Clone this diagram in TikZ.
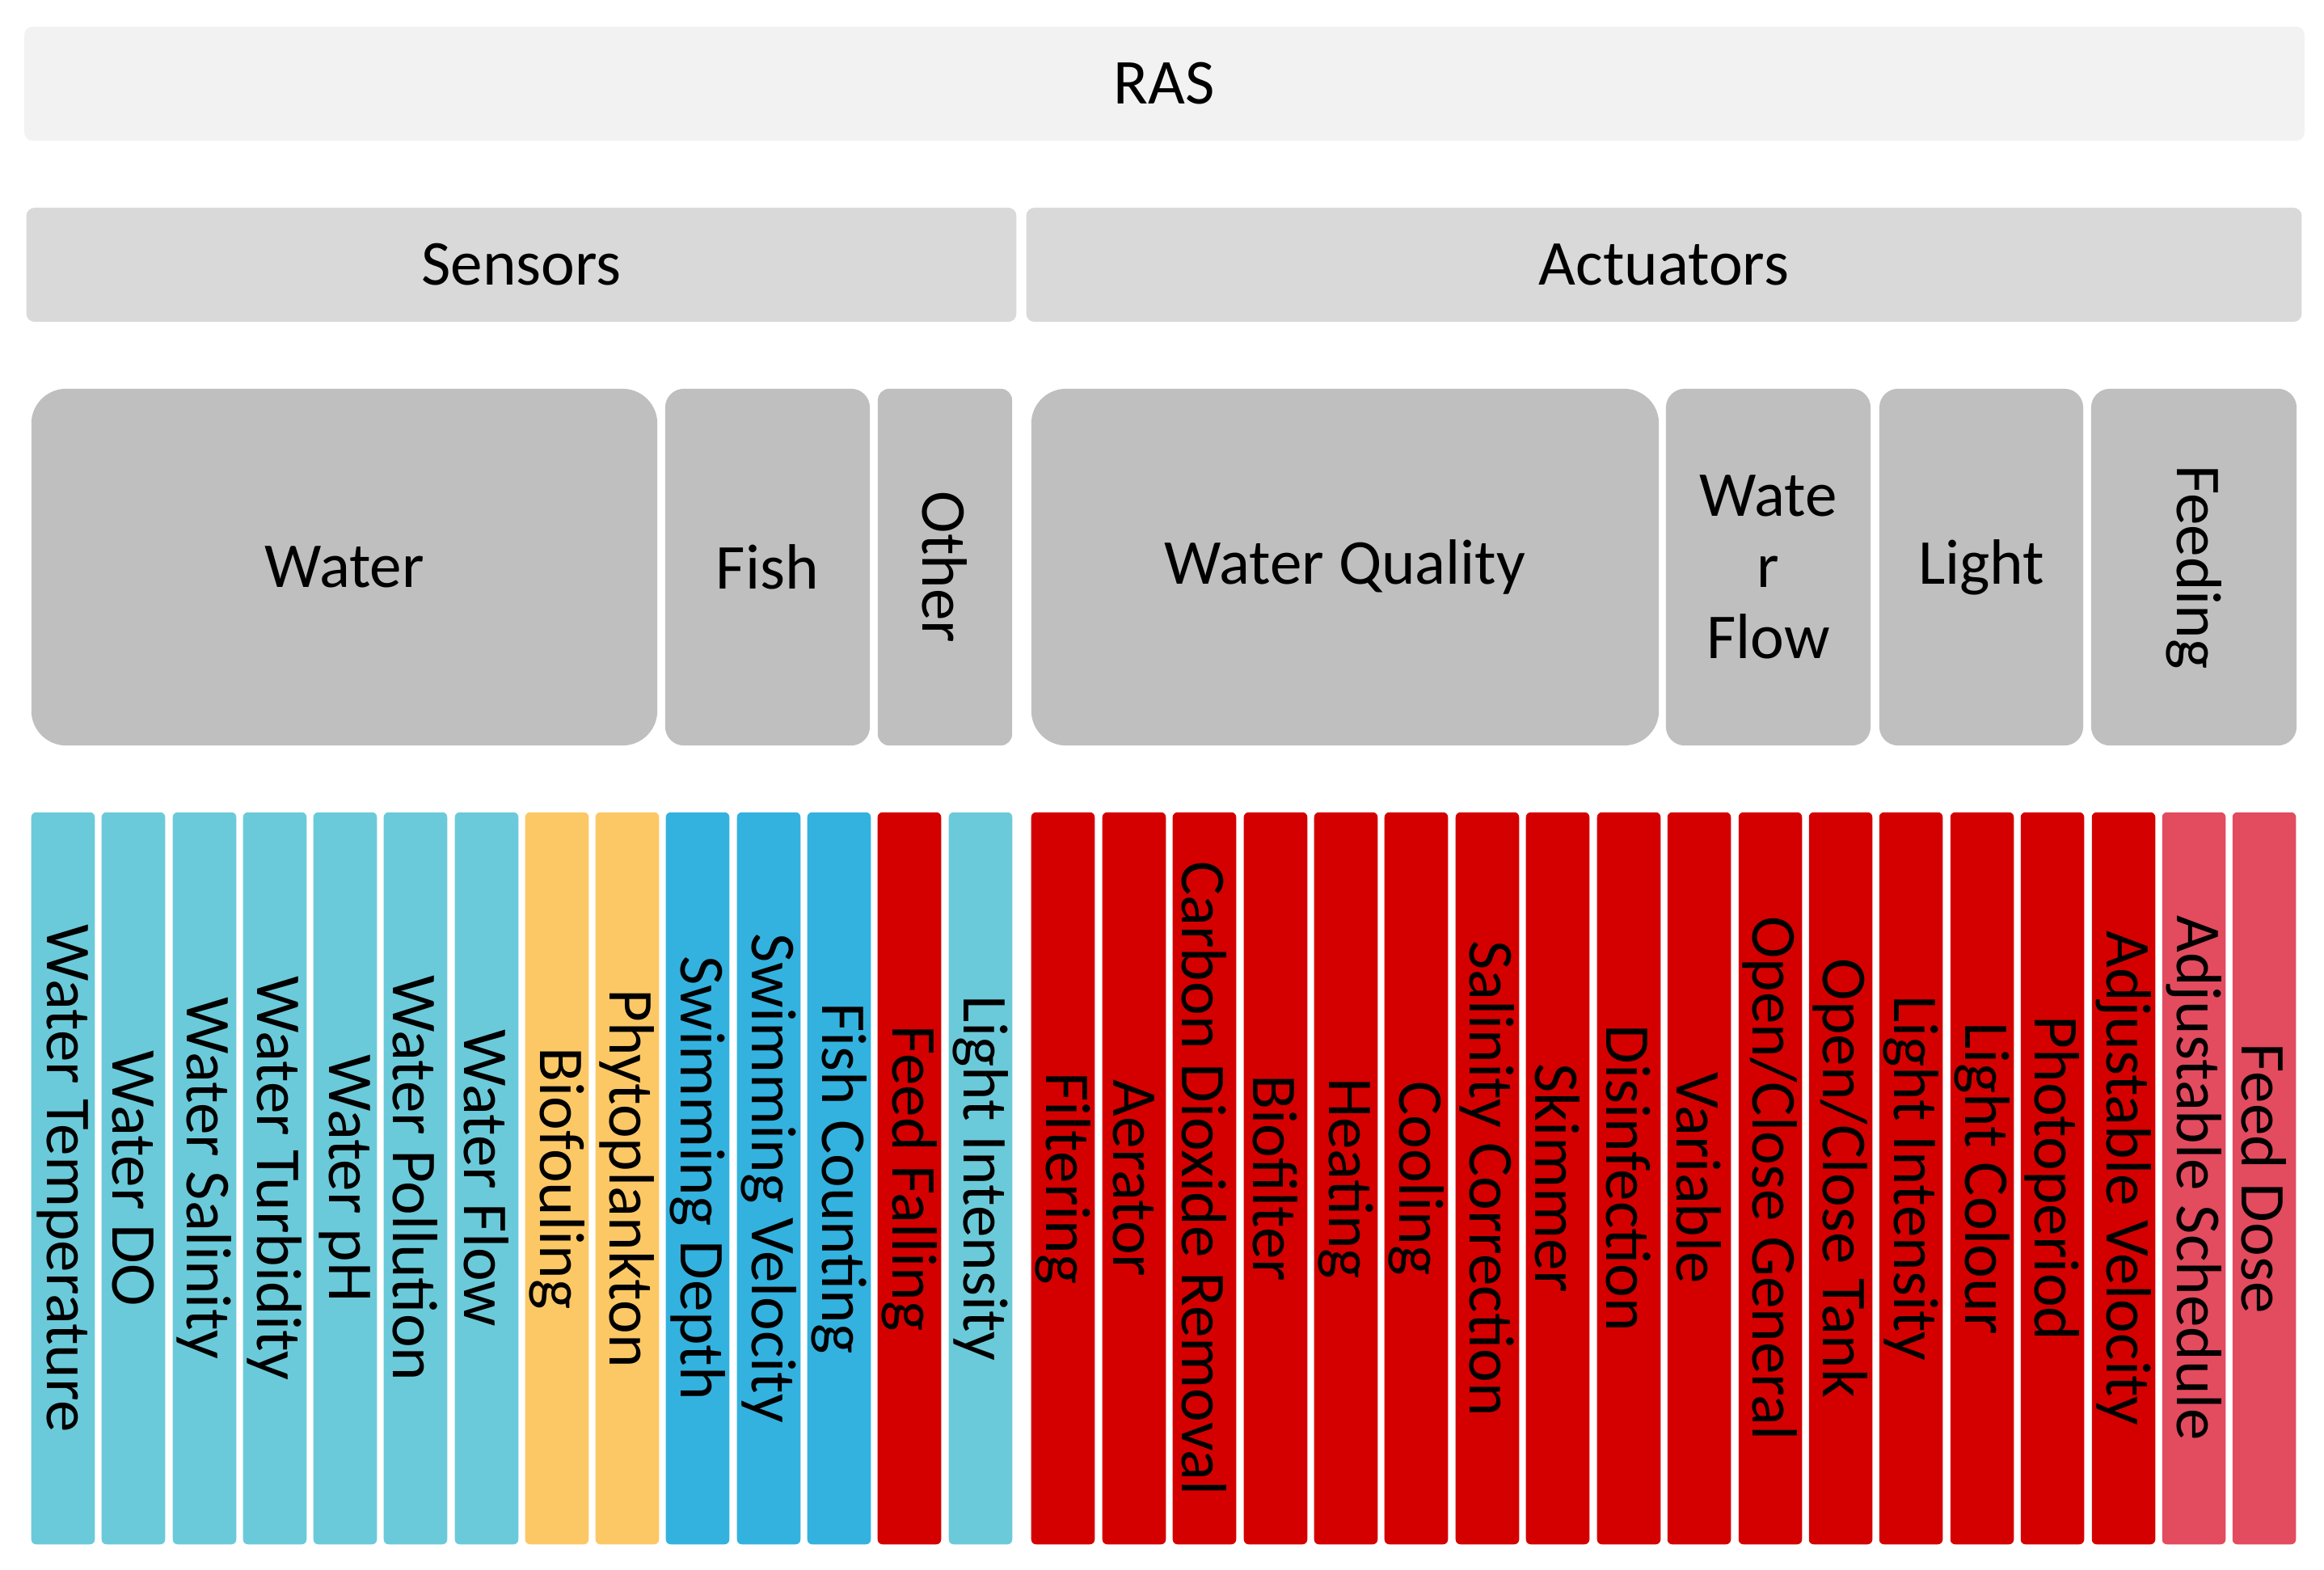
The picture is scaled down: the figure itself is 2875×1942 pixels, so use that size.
\documentclass[tikz,border=0pt]{standalone}
\usepackage{fontspec}
\setmainfont{Carlito}

\definecolor{rasgray}{HTML}{F2F2F2}
\definecolor{grpgray}{HTML}{D9D9D9}
\definecolor{catgray}{HTML}{BFBFBF}
\definecolor{cwater}{HTML}{6BCAD9}
\definecolor{cbio}{HTML}{FCC865}
\definecolor{cfish}{HTML}{33B2DF}
\definecolor{cact}{HTML}{D40000}
\definecolor{cfeed}{HTML}{E34B5F}

\tikzset{
	box/.style={rectangle, draw=none, inner sep=0pt, text=black,
		font=\fontsize{22.5}{25}\selectfont},
	rasbox/.style={box, fill=rasgray, rounded corners=0.1cm, minimum height=1.41cm},
	grpbox/.style={box, fill=grpgray, rounded corners=0.1cm, minimum height=1.41cm},
	catbox/.style={box, fill=catgray, minimum height=4.41cm, align=center},
	bar/.style={box, rotate=-90, minimum width=9.05cm, minimum height=0.785cm,
		rounded corners=0.06cm},
}

\begin{document}
\begin{tikzpicture}
	\pgfsetxvec{\pgfpoint{0.01cm}{0.0cm}}
	\pgfsetyvec{\pgfpoint{0.0cm}{-0.01cm}}
	\useasboundingbox (0,0) rectangle (2875,1942);

	% top levels
	\node[rasbox, minimum width=28.19cm] at (1440.5,103.5) (ras) {RAS};
	\node[grpbox, minimum width=12.24cm] at (645,327.5) (sensors) {Sensors};
	\node[grpbox, minimum width=15.77cm] at (2058.5,327.5) (actuators) {Actuators};

	% categories
	\node[catbox, minimum width=7.74cm, rounded corners=0.43cm] at (426,701.5) (water) {Water};
	\node[catbox, minimum width=2.53cm, rounded corners=0.23cm] at (949.5,701.5) (fish) {Fish};
	\node[catbox, minimum width=1.66cm, rounded corners=0.14cm] at (1169,701.5) (other) {};
	\node[box, rotate=-90] at (other) (othertext) {Other};
	\node[catbox, minimum width=7.76cm, rounded corners=0.43cm] at (1664,701.5) (quality) {Water Quality};
	\node[catbox, minimum width=2.53cm, rounded corners=0.23cm] at (2187.5,701.5) (flow) {Wate\\r\\Flow};
	\node[catbox, minimum width=2.52cm, rounded corners=0.23cm] at (2451,701.5) (light) {Light};
	\node[catbox, minimum width=2.54cm, rounded corners=0.23cm] at (2714,701.5) (feeding) {};
	\node[box, rotate=-90] at (feeding) (feedingtext) {Feeding};

	% sensors
	\node[bar, fill=cwater] at (78,1457.5) (wtemp) {Water Temperature};
	\node[bar, fill=cwater] at (165,1457.5) (wdo) {Water DO};
	\node[bar, fill=cwater] at (253,1457.5) (wsal) {Water Salinity};
	\node[bar, fill=cwater] at (340,1457.5) (wturb) {Water Turbidity};
	\node[bar, fill=cwater] at (427,1457.5) (wph) {Water pH};
	\node[bar, fill=cwater] at (514,1457.5) (wpoll) {Water Pollution};
	\node[bar, fill=cwater] at (602,1457.5) (wflow) {Water Flow};
	\node[bar, fill=cbio] at (689,1457.5) (biofoul) {Biofouling};
	\node[bar, fill=cbio] at (776,1457.5) (phyto) {Phytoplankton};
	\node[bar, fill=cfish] at (863,1457.5) (sdepth) {Swimming Depth};
	\node[bar, fill=cfish] at (951,1457.5) (svel) {Swimming Velocity};
	\node[bar, fill=cfish] at (1038,1457.5) (fcount) {Fish Counting};
	\node[bar, fill=cact] at (1125,1457.5) (ffall) {Feed Falling};
	\node[bar, fill=cwater] at (1213,1457.5) (lint) {Light Intensity};

	% actuators
	\node[bar, fill=cact] at (1315,1457.5) (filter) {Filtering};
	\node[bar, fill=cact] at (1403,1457.5) (aerator) {Aerator};
	\node[bar, fill=cact] at (1490,1457.5) (cdr) {Carbon Dioxide Removal};
	\node[bar, fill=cact] at (1578,1457.5) (biofilt) {Biofilter};
	\node[bar, fill=cact] at (1665,1457.5) (heat) {Heating};
	\node[bar, fill=cact] at (1752,1457.5) (cool) {Cooling};
	\node[bar, fill=cact] at (1840,1457.5) (salcorr) {Salinity Correction};
	\node[bar, fill=cact] at (1927,1457.5) (skim) {Skimmer};
	\node[bar, fill=cact] at (2015,1457.5) (disinf) {Disinfection};
	\node[bar, fill=cact] at (2102,1457.5) (var) {Variable};
	\node[bar, fill=cact] at (2190,1457.5) (ocgen) {Open/Close General};
	\node[bar, fill=cact] at (2277,1457.5) (octank) {Open/Close Tank};
	\node[bar, fill=cact] at (2364,1457.5) (aint) {Light Intensity};
	\node[bar, fill=cact] at (2452,1457.5) (acol) {Light Colour};
	\node[bar, fill=cact] at (2539,1457.5) (photo) {Photoperiod};
	\node[bar, fill=cact] at (2627,1457.5) (adjvel) {Adjustable Velocity};
	\node[bar, fill=cfeed] at (2714,1457.5) (adjsch) {Adjustable Schedule};
	\node[bar, fill=cfeed] at (2801,1457.5) (fdose) {Feed Dose};

\end{tikzpicture}
\end{document}
